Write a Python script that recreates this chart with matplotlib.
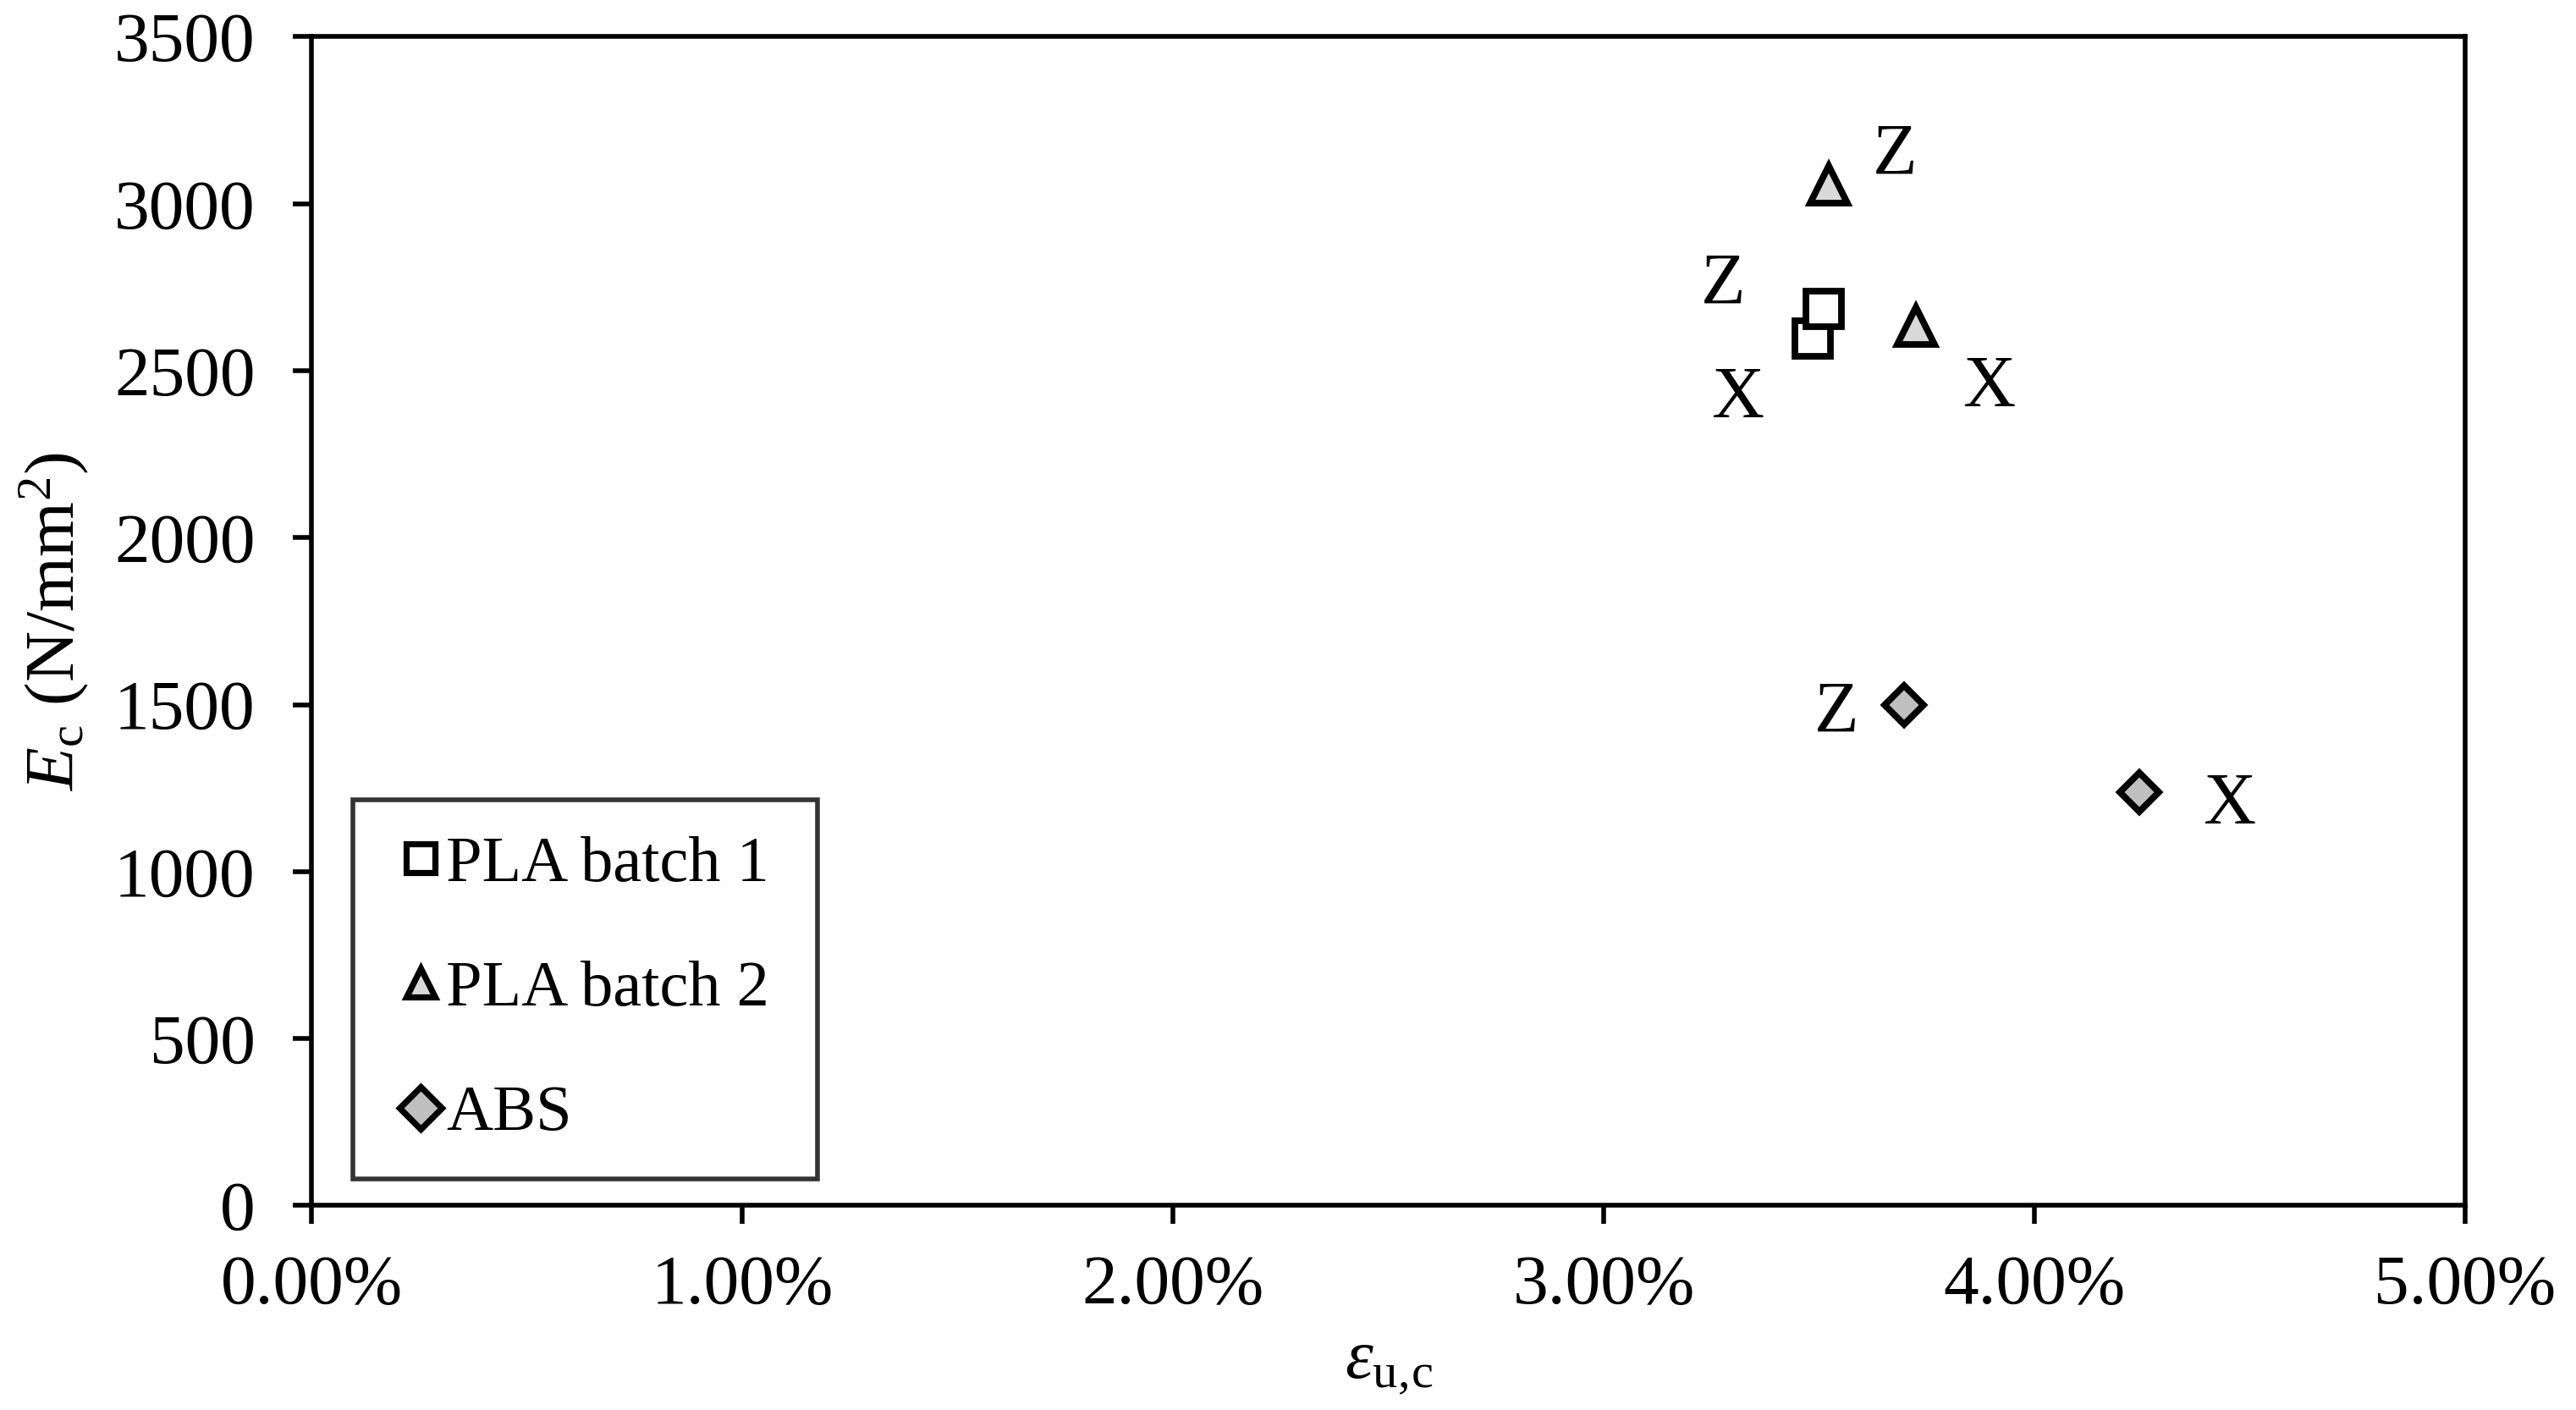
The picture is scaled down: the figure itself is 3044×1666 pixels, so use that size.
import numpy as np
import matplotlib
matplotlib.use("Agg")
import matplotlib.pyplot as plt
from matplotlib.ticker import FuncFormatter

plt.rcParams['font.family'] = ['Liberation Serif', 'DejaVu Serif']
plt.rcParams['mathtext.fontset'] = 'custom'
plt.rcParams['mathtext.rm'] = 'Liberation Serif'
plt.rcParams['mathtext.it'] = 'Liberation Serif:italic'

# data
series = ['PLA batch 1', 'PLA batch 2', 'ABS']
strain = [[0.03485, 0.03511], [0.03523, 0.03725], [0.03698, 0.04244]]
modulus = [[2596, 2684], [3058, 2635], [1500, 1239]]
point_tags = [['X', 'Z'], ['Z', 'X'], ['Z', 'X']]

markers = ['s', '^', 'D']
fills = ['white', '#d9d9d9', '#bfbfbf']
sizes = [15, 16, 11.5]
# label offsets in points from the marker
tag_offsets = [[(-32, -26), (-43, 10)], [(28, 12), (31, -27)], [(-29, -4), (38, -6)]]

fig = plt.figure(figsize=(15.22, 8.33), dpi=200)
ax = fig.add_axes([0.121, 0.145, 0.836, 0.829])

for i in range(3):
    ax.plot(strain[i], modulus[i], linestyle='none', marker=markers[i],
            markersize=sizes[i], markerfacecolor=fills[i], markeredgecolor='black',
            markeredgewidth=2.8, label=series[i], zorder=3)
    for j in range(len(strain[i])):
        ax.annotate(point_tags[i][j], (strain[i][j], modulus[i][j]),
                    xytext=tag_offsets[i][j], textcoords='offset points',
                    ha='center', va='center', fontsize=31)

ax.set_xlim(0, 0.05)
ax.set_ylim(0, 3500)
ax.set_xticks(np.arange(0, 0.0501, 0.01))
ax.set_yticks(np.arange(0, 3501, 500))
ax.xaxis.set_major_formatter(FuncFormatter(lambda v, p: '%.2f%%' % (v * 100)))
ax.tick_params(direction='out', length=8, width=2, labelsize=30)
ax.tick_params(axis='y', pad=16)
ax.tick_params(axis='x', pad=13)
for s in ax.spines.values():
    s.set_linewidth(2)

ax.set_xlabel(r'$\varepsilon_{\mathrm{u},\!\mathrm{c}}$', fontsize=30, labelpad=6)
ax.set_ylabel(r'$E_{\mathrm{c}}$ (N/mm$^{2}$)', fontsize=30, labelpad=10)

leg = ax.legend(loc='lower left', bbox_to_anchor=(0.019, 0.0225, 0.216, 0), mode='expand',
                fontsize=27.5, frameon=True, fancybox=False, edgecolor='black',
                handletextpad=-0.1, handlelength=1.0, labelspacing=1.02,
                borderpad=0.55, borderaxespad=0)
leg.get_frame().set_linewidth(2)
for h in leg.legend_handles:
    h.set_markersize(12.5)
    h.set_markeredgewidth(2.6)

fig.savefig('out.png', dpi=200)
